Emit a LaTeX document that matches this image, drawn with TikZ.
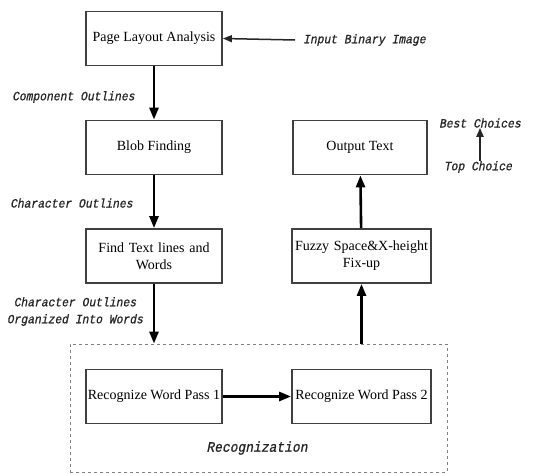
\documentclass[tikz,border=0pt]{standalone}
\usepackage{fontspec}
\setmainfont{Liberation Serif}
\newfontfamily\tagfont[FakeBold=1.0, FakeSlant=0.2, FakeStretch=0.9]{Liberation Mono}
\usetikzlibrary{arrows.meta}

\tikzset{
  procbox/.style={draw=black!75, line width=1.8pt, minimum width=136pt, minimum height=54pt,
    align=center, font=\fontsize{14}{17}\selectfont, inner sep=2pt},
  flowtag/.style={font=\fontsize{12.6}{17}\tagfont, inner sep=0pt, align=center, text=black!85},
  flow/.style={line width=2.6pt, -{Triangle[length=12pt, width=9pt]}},
  thinflow/.style={line width=1.5pt, black!85, -{Triangle[length=9pt, width=7pt]}},
}

\begin{document}
\begin{tikzpicture}[x=1pt, y=-1pt]
    \useasboundingbox (0, 0) rectangle (558, 474);
    % recognition group
    \node[draw=black!50, dashed, line width=0.8pt, minimum width=377pt, minimum height=128pt] (recog) at (258.5, 408) {};
    \node[flowtag, font=\fontsize{14.4}{15}\tagfont] (recogtag) at (257, 448) {Recognization};
    % left column
    \node[procbox] (layout) at (154, 38.5) {Page Layout Analysis};
    \node[procbox] (blob) at (154, 147.5) {Blob Finding};
    \node[procbox, text width=130pt] (lines) at (154, 256) {Find Text lines and\\Words};
    \node[procbox] (pass1) at (154, 396.5) {Recognize Word Pass 1};
    % right column
    \node[procbox, minimum width=134pt] (output) at (360, 147.5) {Output Text};
    \node[procbox, minimum width=139pt, text width=135pt] (fixup) at (361.5, 256) {Fuzzy Space\&X-height\\Fix-up};
    \node[procbox, minimum width=139pt] (pass2) at (361.5, 396.5) {Recognize Word Pass 2};
    % labels
    \node[flowtag, anchor=west] (input) at (303, 40) {Input Binary Image};
    \node[flowtag, anchor=west] (compout) at (12, 97) {Component Outlines};
    \node[flowtag, anchor=west] (charout) at (10, 203) {Character Outlines};
    \node[flowtag] (wordout) at (75, 311.5) {Character Outlines\\Organized Into Words};
    \node[flowtag] (best) at (480, 123) {Best Choices};
    \node[flowtag] (top) at (478, 167) {Top Choice};
    % connectors
    \draw[thinflow] (input.west) ++(-8, 0) -- (layout.east);
    \draw[flow] (layout) -- (blob);
    \draw[flow] (blob) -- (lines);
    \draw[flow] (lines) -- (lines |- recog.north);
    \draw[flow] (pass1) -- (pass2);
    \draw[flow] (recog.north -| fixup) -- (fixup);
    \draw[flow] (fixup) -- (output);
    \draw[thinflow, line width=2pt] (top.north -| best) -- (best.south);
\end{tikzpicture}
\end{document}
